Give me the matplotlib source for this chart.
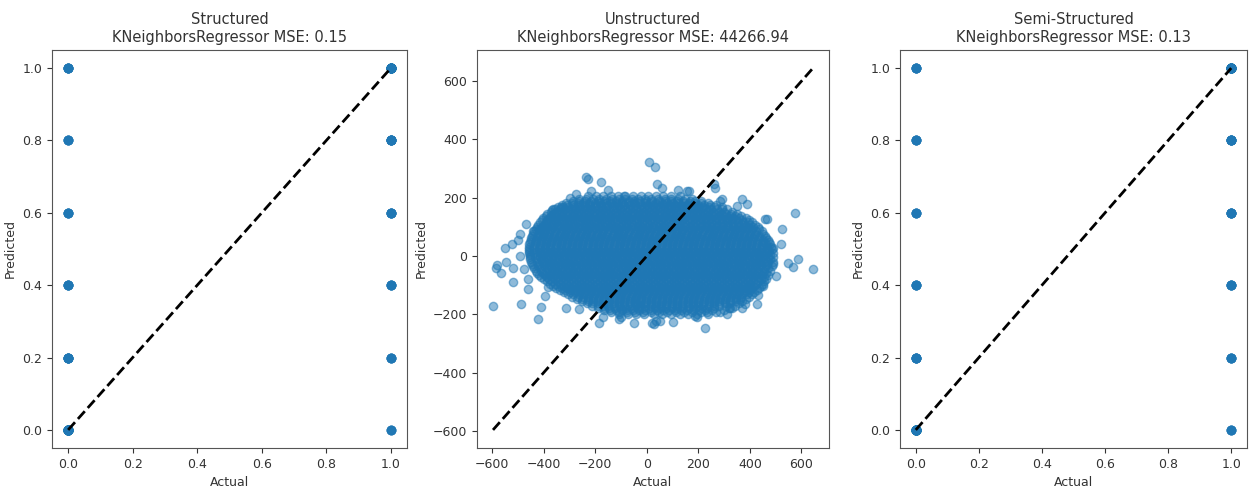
import matplotlib
matplotlib.use("Agg")
import matplotlib.pyplot as plt
import numpy as np

# ---------------- data ----------------
panel_titles = ["Structured", "Unstructured", "Semi-Structured"]
model_name = "KNeighborsRegressor"
mse_values = [0.15, 44266.94, 0.13]

# binary panels: (actual, predicted) pairs and how many samples sit on each
binary_actual = [0, 0, 0, 0, 0, 0, 1, 1, 1, 1, 1, 1]
binary_pred = [0.0, 0.2, 0.4, 0.6, 0.8, 1.0, 0.0, 0.2, 0.4, 0.6, 0.8, 1.0]
structured_counts = [60, 14, 10, 9, 8, 12, 6, 8, 9, 11, 15, 40]
semi_counts = [55, 12, 9, 8, 9, 10, 7, 9, 10, 12, 14, 45]

# unstructured cloud, read row by row (predicted level -> actual values)
cloud_pred_levels = [205, 190, 175, 160, 145, 130, 115, 100, 85, 70, 55, 40, 25, 10,
                     -5, -20, -35, -50, -65, -80, -95, -110, -125, -140, -155, -170,
                     -185, -200,
                     197, 182, 167, 152, 137, 122, 107, 92, 77, 62, 47, 32, 17, 2,
                     -12, -27, -42, -57, -72, -87, -102, -117, -132, -147, -162, -177, -192]
cloud_actual_rows = [
    "-228 -196 -171 -140 -112 -85 -52 -24 6 37 61 94 128",
    "-288 -262 -241 -215 -190 -168 -143 -120 -96 -71 -49 -25 -2 22 47 70 93 119 141 166 188 209",
    "-331 -309 -286 -265 -241 -221 -198 -177 -154 -133 -110 -88 -67 -44 -22 1 23 45 66 89 111 133 155 177 199 221 244 268",
    "-358 -337 -316 -296 -274 -253 -232 -211 -190 -169 -148 -127 -106 -85 -64 -43 -22 -1 20 41 62 83 104 125 146 167 188 209 230 251 272 291 310",
    "-386 -365 -344 -322 -302 -281 -259 -239 -218 -197 -176 -155 -134 -113 -92 -71 -50 -29 -8 13 34 55 76 97 118 139 160 181 202 223 244 265 286 307 328 349",
    "-401 -380 -358 -337 -316 -295 -274 -253 -232 -211 -190 -169 -148 -127 -106 -85 -64 -43 -22 -1 20 41 62 83 104 125 146 167 188 209 230 251 272 293 314 335 356 384",
    "-414 -392 -371 -352 -330 -309 -290 -268 -247 -227 -205 -186 -164 -143 -124 -102 -81 -62 -40 -19 0 22 43 62 84 105 124 146 167 186 208 229 248 270 291 310 332 353 372 393 410",
    "-427 -405 -386 -364 -345 -323 -304 -282 -263 -241 -222 -200 -181 -159 -140 -118 -99 -77 -58 -36 -17 5 24 46 65 87 106 128 147 169 188 210 229 251 270 292 311 333 352 374 393 412 430",
    "-437 -416 -397 -375 -356 -334 -315 -293 -274 -252 -233 -211 -192 -170 -151 -129 -110 -88 -69 -47 -28 -6 13 35 54 76 95 117 136 158 177 199 218 240 259 281 300 322 341 363 382 404 425 447",
    "-444 -424 -403 -383 -362 -342 -321 -301 -280 -260 -239 -219 -198 -178 -157 -137 -116 -96 -75 -55 -34 -14 7 27 48 68 89 109 130 150 171 191 212 232 253 273 294 314 335 355 376 396 417 437 459",
    "-451 -430 -410 -389 -369 -348 -328 -307 -287 -266 -246 -225 -205 -184 -164 -143 -123 -102 -82 -61 -41 -20 0 21 41 62 82 103 123 144 164 185 205 226 246 267 287 308 328 349 369 390 410 431 451 469",
    "-456 -434 -415 -393 -374 -352 -333 -311 -292 -270 -251 -229 -210 -188 -169 -147 -128 -106 -87 -65 -46 -24 -5 17 36 58 77 99 118 140 159 181 200 222 241 263 282 304 323 345 364 386 405 427 446 462 478",
    "-458 -437 -417 -396 -376 -355 -335 -314 -294 -273 -253 -232 -212 -191 -171 -150 -130 -109 -89 -68 -48 -27 -7 14 34 55 75 96 116 137 157 178 198 219 239 260 280 301 321 342 362 383 403 424 444 465 484",
    "-457 -438 -416 -397 -375 -356 -334 -315 -293 -274 -252 -233 -211 -192 -170 -151 -129 -110 -88 -69 -47 -28 -6 13 35 54 76 95 117 136 158 177 199 218 240 259 281 300 322 341 363 382 404 423 445 466 488",
    "-454 -433 -413 -392 -372 -351 -331 -310 -290 -269 -249 -228 -208 -187 -167 -146 -126 -105 -85 -64 -44 -23 -3 18 38 59 79 100 120 141 161 182 202 223 243 264 284 305 325 346 366 387 407 428 448 469 490",
    "-449 -427 -408 -386 -367 -345 -326 -304 -285 -263 -244 -222 -203 -181 -162 -140 -121 -99 -80 -58 -39 -17 2 24 43 65 84 106 125 147 166 188 207 229 248 270 289 311 330 352 371 393 412 434 453 472 490",
    "-441 -421 -400 -380 -359 -339 -318 -298 -277 -257 -236 -216 -195 -175 -154 -134 -113 -93 -72 -52 -31 -11 10 30 51 71 92 112 133 153 174 194 215 235 256 276 297 317 338 358 379 399 420 440 461 485",
    "-431 -410 -390 -369 -349 -328 -308 -287 -267 -246 -226 -205 -185 -164 -144 -123 -103 -82 -62 -41 -21 0 20 41 61 82 102 123 143 164 184 205 225 246 266 287 307 328 348 369 389 410 430 455 479",
    "-417 -396 -376 -355 -335 -314 -294 -273 -253 -232 -212 -191 -171 -150 -130 -109 -89 -68 -48 -27 -7 14 34 55 75 96 116 137 157 178 198 219 239 260 280 301 321 342 362 383 403 424 448 471",
    "-399 -378 -358 -337 -317 -296 -276 -255 -235 -214 -194 -173 -153 -132 -112 -91 -71 -50 -30 -9 11 32 52 73 93 114 134 155 175 196 216 237 257 278 298 319 339 360 380 401 421 442 461",
    "-377 -356 -336 -315 -295 -274 -254 -233 -213 -192 -172 -151 -131 -110 -90 -69 -49 -28 -8 13 33 54 74 95 115 136 156 177 197 218 238 259 279 300 320 341 361 382 402 423 449",
    "-351 -330 -310 -289 -269 -248 -228 -207 -187 -166 -146 -125 -105 -84 -64 -43 -23 -2 18 39 59 80 100 121 141 162 182 203 223 244 264 285 305 326 346 367 387 408 434",
    "-321 -300 -280 -259 -239 -218 -198 -177 -157 -136 -116 -95 -75 -54 -34 -13 7 28 48 69 89 110 130 151 171 192 212 233 253 274 294 315 335 356 376 397 417",
    "-289 -268 -248 -227 -207 -186 -166 -145 -125 -104 -84 -63 -43 -22 -2 19 39 60 80 101 121 142 162 183 203 224 244 265 285 306 326 347 367 397",
    "-251 -230 -210 -189 -169 -148 -128 -107 -87 -66 -46 -25 -5 16 36 57 77 98 118 139 159 180 200 221 241 262 282 303 323 348 371",
    "-211 -190 -170 -149 -129 -108 -88 -67 -47 -26 -6 15 35 56 76 97 117 138 158 179 199 220 240 261 281 306 341",
    "-167 -144 -121 -98 -75 -52 -29 -6 17 40 63 86 109 132 155 178 201 226 252 299",
    "-108 -74 -41 -9 26 58 93 127 161 196 238",
    # interleaved rows
    "-262 -236 -210 -186 -160 -134 -109 -84 -58 -33 -8 18 43 69 95 120 147 174",
    "-312 -290 -268 -246 -225 -203 -181 -160 -138 -116 -95 -73 -51 -30 -8 14 35 57 79 100 122 144 165 187 209 238",
    "-346 -325 -304 -283 -262 -241 -221 -200 -179 -158 -137 -116 -95 -74 -53 -32 -11 10 31 52 73 94 115 136 157 178 199 220 241 262 291",
    "-372 -351 -330 -309 -288 -267 -246 -225 -204 -183 -162 -141 -120 -99 -78 -57 -36 -15 6 27 48 69 90 111 132 153 174 195 216 237 258 279 300 330",
    "-393 -372 -351 -330 -309 -288 -267 -246 -225 -204 -183 -162 -141 -120 -99 -78 -57 -36 -15 6 27 48 69 90 111 132 153 174 195 216 237 258 279 300 321 342 367",
    "-408 -387 -366 -345 -324 -303 -282 -261 -240 -219 -198 -177 -156 -135 -114 -93 -72 -51 -30 -9 12 33 54 75 96 117 138 159 180 201 222 243 264 285 306 327 348 369 397",
    "-421 -400 -380 -359 -339 -318 -298 -277 -257 -236 -216 -195 -175 -154 -134 -113 -93 -72 -52 -31 -11 10 30 51 71 92 112 133 153 174 194 215 235 256 276 297 317 338 358 379 399 420",
    "-432 -411 -391 -370 -350 -329 -309 -288 -268 -247 -227 -206 -186 -165 -145 -124 -104 -83 -63 -42 -22 -1 19 40 60 81 101 122 142 163 183 204 224 245 265 286 306 327 347 368 388 409 437",
    "-441 -420 -400 -379 -359 -338 -318 -297 -277 -256 -236 -215 -195 -174 -154 -133 -113 -92 -72 -51 -31 -10 10 31 51 72 92 113 133 154 174 195 215 236 256 277 297 318 338 359 379 400 420 451",
    "-448 -427 -407 -386 -366 -345 -325 -304 -284 -263 -243 -222 -202 -181 -161 -140 -120 -99 -79 -58 -38 -17 3 24 44 65 85 106 126 147 167 188 208 229 249 270 290 311 331 352 372 393 413 434 464",
    "-453 -432 -412 -391 -371 -350 -330 -309 -289 -268 -248 -227 -207 -186 -166 -145 -125 -104 -84 -63 -43 -22 -2 19 39 60 80 101 121 142 162 183 203 224 244 265 285 306 326 347 367 388 408 429 449 473",
    "-456 -436 -415 -395 -374 -354 -333 -313 -292 -272 -251 -231 -210 -190 -169 -149 -128 -108 -87 -67 -46 -26 -5 15 36 56 77 97 118 138 159 179 200 220 241 261 282 302 323 343 364 384 405 425 446 466 481",
    "-457 -427 -406 -386 -365 -345 -324 -304 -283 -263 -242 -222 -201 -181 -160 -140 -119 -99 -78 -58 -37 -17 4 24 45 65 86 106 127 147 168 188 209 229 250 270 291 311 332 352 373 393 414 434 455 476",
    "-455 -426 -405 -385 -364 -344 -323 -303 -282 -262 -241 -221 -200 -180 -159 -139 -118 -98 -77 -57 -36 -16 5 25 46 66 87 107 128 148 169 189 210 230 251 271 292 312 333 353 374 394 415 435 456 478",
    "-452 -423 -402 -382 -361 -341 -320 -300 -279 -259 -238 -218 -197 -177 -156 -136 -115 -95 -74 -54 -33 -13 8 28 49 69 90 110 131 151 172 192 213 233 254 274 295 315 336 356 377 397 418 438 459 480",
    "-446 -417 -396 -376 -355 -335 -314 -294 -273 -253 -232 -212 -191 -171 -150 -130 -109 -89 -68 -48 -27 -7 14 34 55 75 96 116 137 157 178 198 219 239 260 280 301 321 342 362 383 403 424 444 466 488",
    "-437 -410 -389 -369 -348 -328 -307 -287 -266 -246 -225 -205 -184 -164 -143 -123 -102 -82 -61 -41 -20 0 21 41 62 82 103 123 144 164 185 205 226 246 267 287 308 328 349 369 390 410 431 451 472",
    "-425 -401 -380 -360 -339 -319 -298 -278 -257 -237 -216 -196 -175 -155 -134 -114 -93 -73 -52 -32 -11 9 30 50 71 91 112 132 153 173 194 214 235 255 276 296 317 337 358 378 399 419 440 463",
    "-409 -387 -366 -346 -325 -305 -284 -264 -243 -223 -202 -182 -161 -141 -120 -100 -79 -59 -38 -18 3 23 44 64 85 105 126 146 167 187 208 228 249 269 290 310 331 351 372 392 413 433 455",
    "-389 -367 -346 -326 -305 -285 -264 -244 -223 -203 -182 -162 -141 -121 -100 -80 -59 -39 -18 2 23 43 64 84 105 125 146 166 187 207 228 248 269 289 310 330 351 371 392 412 432 456",
    "-365 -343 -323 -302 -282 -261 -241 -220 -200 -179 -159 -138 -118 -97 -77 -56 -36 -15 5 26 46 67 87 108 128 149 169 190 210 231 251 272 292 313 333 354 374 395 415 442",
    "-337 -316 -295 -275 -254 -234 -213 -193 -172 -152 -131 -111 -90 -70 -49 -29 -8 12 33 53 74 94 115 135 156 176 197 217 238 258 279 299 320 340 361 381 402 426",
    "-306 -285 -264 -244 -223 -203 -182 -162 -141 -121 -100 -80 -59 -39 -18 2 23 43 64 84 105 125 146 166 187 207 228 248 269 289 310 330 351 371 390 408",
    "-271 -250 -229 -209 -188 -168 -147 -127 -106 -86 -65 -45 -24 -4 17 37 58 78 99 119 140 160 181 201 222 242 263 283 304 324 345 362 385",
    "-232 -211 -190 -170 -149 -129 -108 -88 -67 -47 -26 -6 15 35 56 76 97 117 138 158 179 199 220 240 261 281 302 324 358",
    "-190 -168 -146 -124 -101 -79 -57 -35 -13 9 31 53 75 97 119 141 163 186 210 234 262 320",
    "-140 -108 -77 -45 -14 17 49 80 112 144 176 210 270",
]

# scattered points around the dense core
fringe_actual = [-597, -580, -565, -584, -549, -545, -522, -519, -491, -494, -475, -461,
                 -487, -423, -410, -397, -461, -383, -442, -418, -369, -333, -365,
                 -275, -236, -217, -178, -230, -88, 8, 31, 40, 156, 163, 259, 266, 285,
                 291, 369, 388, 575, 523, 465, 459, 549, 587, 568, 645, 491, 452, 401,
                 433, 381, 369, 324, 284, 234, 227, 188, 53, 34, 27, 21, -101, -108,
                 -172, -185, -262, -314, -37, 195, 427, 330, -500, -470, -520, -300,
                 -150, 60, 120, 350, 520, 500, -50, 100, 310]
fringe_pred = [-170, -30, -60, -40, 29, -22, 41, -40, 77, 1, -45, -80,
               -166, -217, -174, -137, -114, -108, 87, 92, 158, 167, 161,
               212, 270, 224, 253, 264, 207, 321, 306, 247, 224, 224, 247, 232, 190,
               195, 195, 180, 149, 92, 126, 126, -25, -10, -38, -45, 29, -102, -108,
               -135, -166, -177, -177, -192, -192, -246, -206, -223, -223, -234, -229, -211, -217,
               -211, -229, -183, -177, -166, -211, -166, -177, 55, 110, -90, 200,
               225, 235, 225, 170, 40, -70, -230, -225, -200]

# ---------------- figure ----------------
W, H = 1258, 495
fig = plt.figure(figsize=(W / 100, H / 100), dpi=100)
boxes = [(52, 355), (477, 352), (900, 347)]
axes = [fig.add_axes([l / W, 47 / H, w / W, 398 / H]) for l, w in boxes]

blue = "#1f77b4"
title_fs = 10.5
label_fs = 9
tick_fs = 9


def binary_panel(ax, counts):
    xs = np.repeat(binary_actual, counts)
    ys = np.repeat(binary_pred, counts)
    ax.scatter(xs, ys, alpha=0.5, color=blue, s=36)
    lo, hi = min(binary_actual), max(binary_actual)
    ax.plot([lo, hi], [lo, hi], "k--", lw=2)


binary_panel(axes[0], structured_counts)
binary_panel(axes[2], semi_counts)

# unstructured
ua, up = [], []
for lvl, row in zip(cloud_pred_levels, cloud_actual_rows):
    vals = [float(v) for v in row.split()]
    ua.extend(vals)
    up.extend([lvl] * len(vals))
ua.extend(fringe_actual)
up.extend(fringe_pred)
ax = axes[1]
ax.scatter(ua, up, alpha=0.5, color=blue, s=36)
lo, hi = min(ua), max(ua)
ax.plot([lo, hi], [lo, hi], "k--", lw=2)
ax.set_xticks([-600, -400, -200, 0, 200, 400, 600])
ax.set_yticks([-600, -400, -200, 0, 200, 400, 600])

for ax, name, mse in zip(axes, panel_titles, mse_values):
    ax.set_title(f"{name}\n{model_name} MSE: {mse:.2f}", fontsize=title_fs, color="#333333")
    ax.set_xlabel("Actual", fontsize=label_fs, color="#333333")
    ax.set_ylabel("Predicted", fontsize=label_fs, color="#333333")
    ax.tick_params(labelsize=tick_fs, colors="#333333")
    for sp in ax.spines.values():
        sp.set_color("#555555")

for ax in (axes[0], axes[2]):
    ax.set_xticks([0.0, 0.2, 0.4, 0.6, 0.8, 1.0])
    ax.set_yticks([0.0, 0.2, 0.4, 0.6, 0.8, 1.0])

fig.savefig("out.png", dpi=100)
